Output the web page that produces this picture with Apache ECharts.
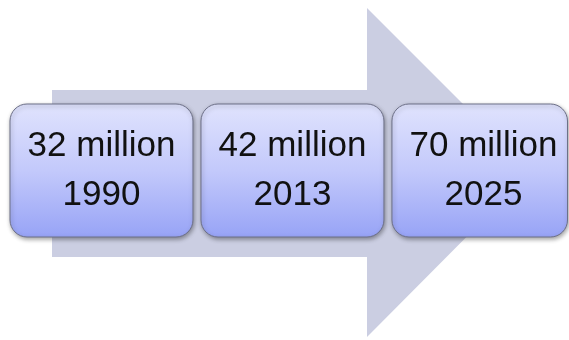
<!DOCTYPE html>
<html>
<head>
<meta charset="utf-8">
<script src="https://cdn.jsdelivr.net/npm/echarts@6/dist/echarts.min.js"></script>
<style>
  html, body { margin: 0; padding: 0; background: #ffffff; }
  #chart { width: 569px; height: 340px; }
</style>
</head>
<body>
<div id="chart"></div>
<script>
// Population milestones shown along the arrow
const years = ['1990', '2013', '2025'];
const millions = [32, 42, 70];

const chart = echarts.init(document.getElementById('chart'), null, { renderer: 'canvas' });

function renderBox(params, api) {
  const idx = params.dataIndex;
  const center = api.coord([api.value(0), api.value(1)]);
  const unit = api.size([1, 0])[0];
  const w = unit * 0.958;
  const h = 133;
  const x = center[0] - w / 2;
  const y = center[1] - h / 2;
  // keep the last box inside the canvas edge
  const right = Math.min(x + w, api.getWidth() - 1.5);
  const font = '35px "Liberation Sans", Arial, sans-serif';
  return {
    type: 'group',
    children: [
      {
        type: 'rect',
        shape: { x: x, y: y, width: right - x, height: h, r: 17 },
        style: {
          fill: new echarts.graphic.LinearGradient(0, 0, 0, 1, [
            { offset: 0, color: '#e0e3fd' },
            { offset: 0.5, color: '#c3c9fb' },
            { offset: 1, color: '#97a3f6' }
          ]),
          stroke: '#6d7088',
          lineWidth: 1,
          shadowBlur: 4,
          shadowOffsetX: 1,
          shadowOffsetY: 2,
          shadowColor: 'rgba(0,0,0,0.35)'
        }
      },
      {
        type: 'text',
        style: {
          x: center[0],
          y: center[1] - 24.5,
          text: millions[idx] + ' million',
          fill: '#111111',
          font: font,
          align: 'center',
          verticalAlign: 'middle'
        }
      },
      {
        type: 'text',
        style: {
          x: center[0],
          y: center[1] + 24.5,
          text: years[idx],
          fill: '#111111',
          font: font,
          align: 'center',
          verticalAlign: 'middle'
        }
      }
    ]
  };
}

chart.setOption({
  animation: false,
  backgroundColor: '#ffffff',
  grid: { left: 6, right: 0, top: 1, height: 340 },
  xAxis: { type: 'value', min: -0.5, max: 2.448, show: false },
  yAxis: { type: 'value', min: -1, max: 1, show: false },
  graphic: [
    {
      type: 'polygon',
      z: -10,
      shape: {
        points: [[52, 90], [367, 90], [367, 8], [531, 172], [367, 337], [367, 257], [52, 257]]
      },
      style: { fill: '#cbcee2' }
    }
  ],
  series: [
    {
      type: 'custom',
      z: 10,
      clip: false,
      renderItem: renderBox,
      data: millions.map((v, i) => [i, 0]),
      encode: { x: 0, y: 1 }
    }
  ]
});
</script>
</body>
</html>
